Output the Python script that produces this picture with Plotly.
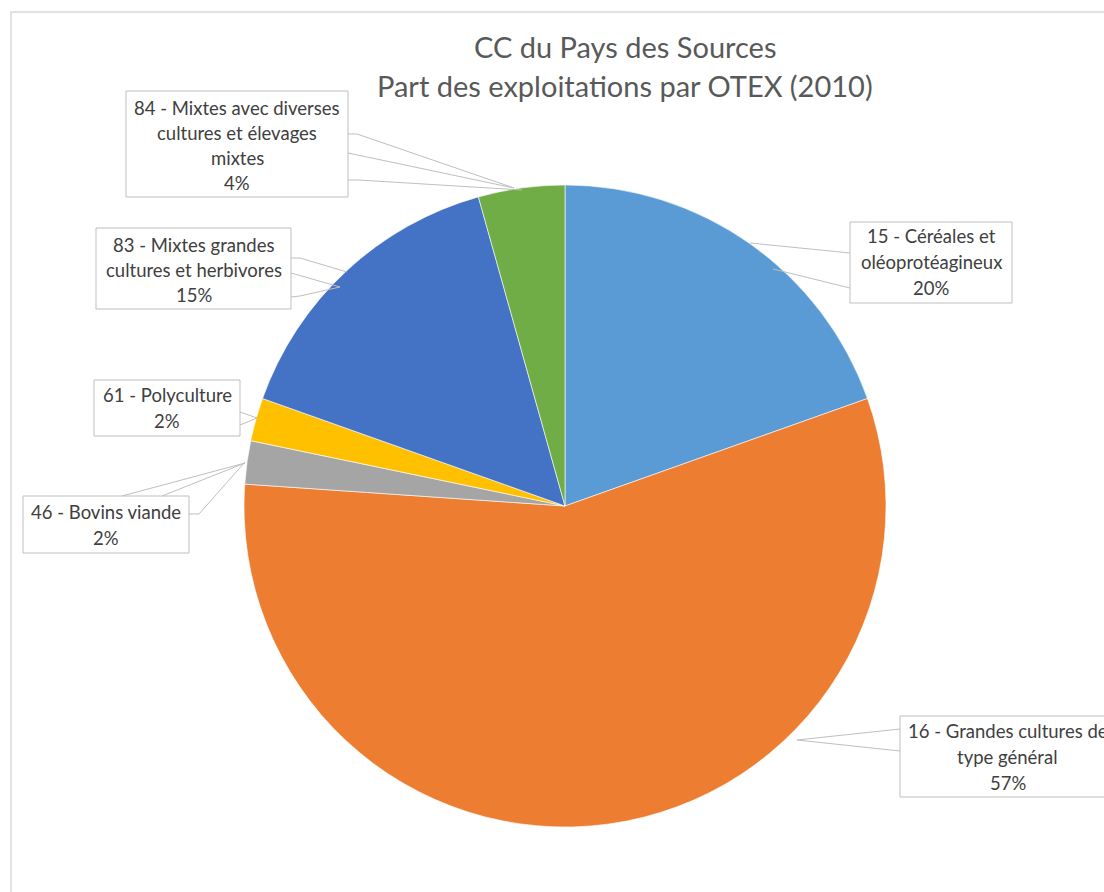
import textwrap
import plotly.graph_objects as go

# --- data -------------------------------------------------------------
categories = [
    "15 - Céréales et oléoprotéagineux",
    "16 - Grandes cultures de type général",
    "46 - Bovins viande",
    "61 - Polyculture",
    "83 - Mixtes grandes cultures et herbivores",
    "84 - Mixtes avec diverses cultures et élevages mixtes",
]
farm_counts = [9, 26, 1, 1, 7, 2]
slice_colors = ["#5B9BD5", "#ED7D31", "#A5A5A5", "#FFC000", "#4472C4", "#70AD47"]
title_lines = ["CC du Pays des Sources", "Part des exploitations par OTEX (2010)"]

# --- layout constants (pixels) ---------------------------------------
W, H = 1104, 892
PIE_CX, PIE_CY, PIE_R = 565, 506, 321

# wrap width, label centre x, first line y, line step, box, pointer legs
callouts = [
    dict(wrap=17, x=931, y0=236, step=26, box=(850, 222, 1012, 303),
         legs=[[(850, 253), (750, 243)], [(850, 288), (773, 269)]]),
    dict(wrap=24, x=1008, y0=731, step=26, box=(900, 716, 1120, 797),
         legs=[[(900, 729), (797, 740)], [(900, 751), (797, 740)]]),
    dict(wrap=24, x=106, y0=512, step=26, box=(23, 496, 189, 553),
         legs=[[(122, 496), (245, 463)], [(162, 496), (245, 463)],
               [(189, 514), (199, 514), (245, 462)]]),
    dict(wrap=24, x=167, y0=395, step=26, box=(94, 380, 240, 436),
         legs=[[(240, 412), (257, 418)], [(240, 425), (257, 418)]]),
    dict(wrap=22, x=193.5, y0=245, step=25, box=(96, 228, 291, 309),
         legs=[[(291, 258), (300, 258), (347, 272)], [(291, 273), (340, 287)],
               [(291, 297), (300, 296), (340, 287)]]),
    dict(wrap=25, x=237, y0=108, step=25, box=(126, 91, 348, 197),
         legs=[[(348, 134), (357, 134), (514, 188)], [(348, 153), (514, 188)],
               [(348, 180), (358, 180), (522, 190)]]),
]


def px(x):
    return x / W


def py(y):
    return 1 - y / H


total = sum(farm_counts)

fig = go.Figure(
    go.Pie(
        labels=categories,
        values=farm_counts,
        sort=False,
        direction="clockwise",
        rotation=0,
        marker=dict(colors=slice_colors, line=dict(color="#FFFFFF", width=0.6)),
        textinfo="none",
        hoverinfo="label+percent",
        showlegend=False,
        domain=dict(x=[px(PIE_CX - PIE_R), px(PIE_CX + PIE_R)],
                    y=[py(PIE_CY + PIE_R), py(PIE_CY - PIE_R)]),
    )
)

shapes = [
    # chart-area frame
    dict(type="rect", xref="paper", yref="paper",
         x0=px(11), x1=px(W + 20), y0=py(H + 20), y1=py(12),
         line=dict(color="#D9D9D9", width=1.5), fillcolor="rgba(0,0,0,0)",
         layer="below"),
]
annotations = []

for i, (name, count, co) in enumerate(zip(categories, farm_counts, callouts)):
    lines = textwrap.wrap(name, width=co["wrap"], break_on_hyphens=False)
    lines.append(f"{round(count / total * 100)}%")
    x0, y0, x1, y1 = co["box"]
    shapes.append(dict(type="rect", xref="paper", yref="paper",
                       x0=px(x0), x1=px(x1), y0=py(y1), y1=py(y0),
                       line=dict(color="#BFBFBF", width=1), fillcolor="#FFFFFF",
                       layer="above"))
    for leg in co["legs"]:
        path = "M " + " L ".join(f"{px(a):.5f},{py(b):.5f}" for a, b in leg)
        shapes.append(dict(type="path", xref="paper", yref="paper", path=path,
                           line=dict(color="#BFBFBF", width=1), layer="above"))
    for k, line in enumerate(lines):
        annotations.append(dict(
            text=line, xref="paper", yref="paper",
            x=px(co["x"]), y=py(co["y0"] + k * co["step"]),
            xanchor="center", yanchor="middle", showarrow=False,
            font=dict(family="Lato", size=18.5, color="#404040"),
        ))

for k, line in enumerate(title_lines):
    annotations.append(dict(
        text=line, xref="paper", yref="paper",
        x=px(625), y=py(47 + k * 39),
        xanchor="center", yanchor="middle", showarrow=False,
        font=dict(family="Lato", size=29, color="#595959"),
    ))

fig.update_layout(
    width=W, height=H,
    margin=dict(l=0, r=0, t=0, b=0),
    paper_bgcolor="#FFFFFF",
    plot_bgcolor="#FFFFFF",
    shapes=shapes,
    annotations=annotations,
)

fig.write_html("out.html")
